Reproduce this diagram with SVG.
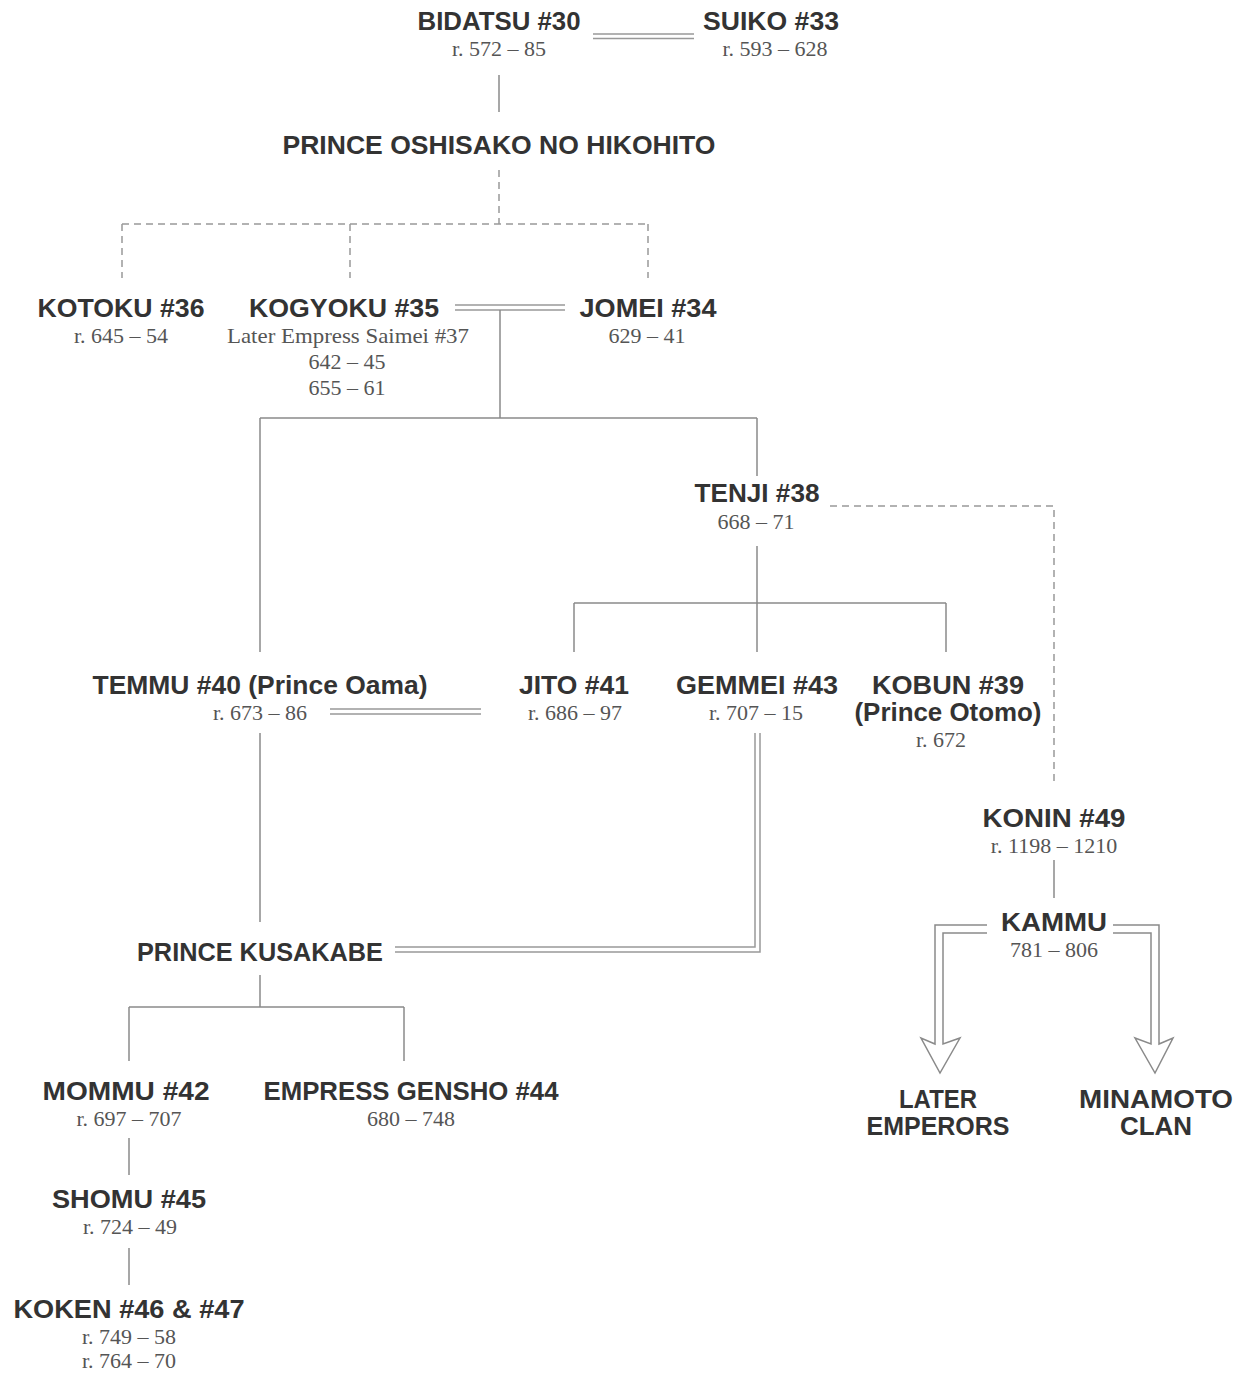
<svg xmlns="http://www.w3.org/2000/svg" width="1244" height="1373" viewBox="0 0 1244 1373">
<style>
.n{font-family:"Liberation Sans",Arial,sans-serif;font-weight:bold;font-size:26px;fill:#333;text-anchor:middle}
.d{font-family:"Liberation Serif","Times New Roman",serif;font-size:22px;fill:#555;text-anchor:middle}
.l{fill:none;stroke:#8a8a8a;stroke-width:1.5}
.dl{fill:none;stroke:#999;stroke-width:1.5}
.ds{fill:none;stroke:#999;stroke-width:1.5;stroke-dasharray:7 5}
</style>
<rect width="1244" height="1373" fill="#fff"/>
<g id="connectors">
<path class="dl" d="M593 34H694M593 38.5H694"/>
<path class="l" d="M499 75V112"/>
<path class="ds" d="M499 170V224M122 224H648M122 224V278M350 224V278M648 224V278"/>
<path class="dl" d="M455 305H565M455 310H565"/>
<path class="l" d="M500 310V418M260 418H757M260 418V652M757 418V476"/>
<path class="ds" d="M830 506H1054V782"/>
<path class="l" d="M757 546V652M574 603H946M574 603V652M946 603V652"/>
<path class="dl" d="M330 709H481M330 714H481"/>
<path class="l" d="M260 733V922"/>
<path class="dl" d="M755 733V947H395M760 733V952H395"/>
<path class="l" d="M1054 860V898"/>
<path class="l" d="M987 925H935V1044L921 1038L940 1073L960 1038L943 1044V933H987"/>
<path class="l" d="M1113 925H1159V1044L1173 1038L1155 1073L1135 1038L1151 1044V933H1113"/>
<path class="l" d="M260 975V1007M129 1007H404M129 1007V1061M404 1007V1061"/>
<path class="l" d="M129 1138V1175M129 1248V1285"/>
</g>
<g id="bidatsu"><text class="n" x="499" y="30" textLength="163" lengthAdjust="spacingAndGlyphs">BIDATSU #30</text><text class="d" x="499" y="56">r. 572 – 85</text></g>
<g id="suiko"><text class="n" x="771" y="30" textLength="136" lengthAdjust="spacingAndGlyphs">SUIKO #33</text><text class="d" x="775" y="56">r. 593 – 628</text></g>
<g id="oshisako"><text class="n" x="499" y="154" textLength="433" lengthAdjust="spacingAndGlyphs">PRINCE OSHISAKO NO HIKOHITO</text></g>
<g id="kotoku"><text class="n" x="121" y="317" textLength="167" lengthAdjust="spacingAndGlyphs">KOTOKU #36</text><text class="d" x="121" y="343">r. 645 – 54</text></g>
<g id="kogyoku"><text class="n" x="344" y="317" textLength="190" lengthAdjust="spacingAndGlyphs">KOGYOKU #35</text><text class="d" x="348" y="343" textLength="242" lengthAdjust="spacingAndGlyphs">Later Empress Saimei #37</text><text class="d" x="347" y="369">642 – 45</text><text class="d" x="347" y="395">655 – 61</text></g>
<g id="jomei"><text class="n" x="648" y="317" textLength="137" lengthAdjust="spacingAndGlyphs">JOMEI #34</text><text class="d" x="647" y="343">629 – 41</text></g>
<g id="tenji"><text class="n" x="757" y="502" textLength="125" lengthAdjust="spacingAndGlyphs">TENJI #38</text><text class="d" x="756" y="529">668 – 71</text></g>
<g id="temmu"><text class="n" x="260" y="694" textLength="335" lengthAdjust="spacingAndGlyphs">TEMMU #40 (Prince Oama)</text><text class="d" x="260" y="720">r. 673 – 86</text></g>
<g id="jito"><text class="n" x="574" y="694" textLength="110" lengthAdjust="spacingAndGlyphs">JITO #41</text><text class="d" x="575" y="720">r. 686 – 97</text></g>
<g id="gemmei"><text class="n" x="757" y="694" textLength="162" lengthAdjust="spacingAndGlyphs">GEMMEI #43</text><text class="d" x="756" y="720">r. 707 – 15</text></g>
<g id="kobun"><text class="n" x="948" y="694" textLength="152" lengthAdjust="spacingAndGlyphs">KOBUN #39</text><text class="n" x="948" y="721" textLength="187" lengthAdjust="spacingAndGlyphs">(Prince Otomo)</text><text class="d" x="941" y="747">r. 672</text></g>
<g id="konin"><text class="n" x="1054" y="827" textLength="143" lengthAdjust="spacingAndGlyphs">KONIN #49</text><text class="d" x="1054" y="853">r. 1198 – 1210</text></g>
<g id="kammu"><text class="n" x="1054" y="931" textLength="106" lengthAdjust="spacingAndGlyphs">KAMMU</text><text class="d" x="1054" y="957">781 – 806</text></g>
<g id="later-emperors"><text class="n" x="938" y="1108" textLength="78" lengthAdjust="spacingAndGlyphs">LATER</text><text class="n" x="938" y="1135" textLength="143" lengthAdjust="spacingAndGlyphs">EMPERORS</text></g>
<g id="minamoto"><text class="n" x="1156" y="1108" textLength="154" lengthAdjust="spacingAndGlyphs">MINAMOTO</text><text class="n" x="1156" y="1135" textLength="72" lengthAdjust="spacingAndGlyphs">CLAN</text></g>
<g id="kusakabe"><text class="n" x="260" y="961" textLength="246" lengthAdjust="spacingAndGlyphs">PRINCE KUSAKABE</text></g>
<g id="mommu"><text class="n" x="126" y="1100" textLength="167" lengthAdjust="spacingAndGlyphs">MOMMU #42</text><text class="d" x="129" y="1126">r. 697 – 707</text></g>
<g id="gensho"><text class="n" x="411" y="1100" textLength="295" lengthAdjust="spacingAndGlyphs">EMPRESS GENSHO #44</text><text class="d" x="411" y="1126">680 – 748</text></g>
<g id="shomu"><text class="n" x="129" y="1208" textLength="154" lengthAdjust="spacingAndGlyphs">SHOMU #45</text><text class="d" x="130" y="1234">r. 724 – 49</text></g>
<g id="koken"><text class="n" x="129" y="1318" textLength="231" lengthAdjust="spacingAndGlyphs">KOKEN #46 &amp; #47</text><text class="d" x="129" y="1344">r. 749 – 58</text><text class="d" x="129" y="1368">r. 764 – 70</text></g>
</svg>
